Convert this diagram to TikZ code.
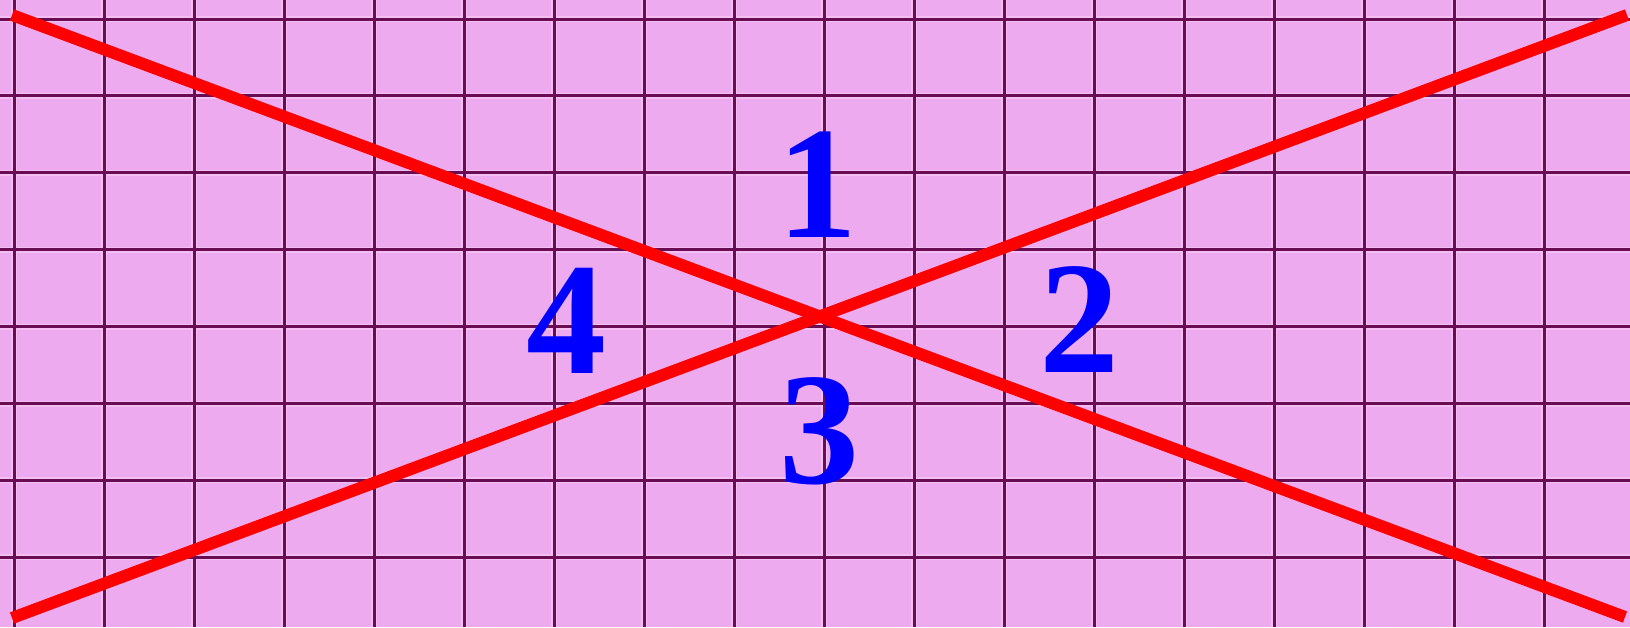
\documentclass[tikz,border=0pt]{standalone}
\usepackage{fontspec}
\setmainfont{Liberation Serif}
\definecolor{bgpink}{RGB}{238,170,238}
\definecolor{halo}{RGB}{245,190,243}
\definecolor{gridline}{RGB}{106,12,84}
\definecolor{redline}{RGB}{255,0,0}
\definecolor{digitblue}{RGB}{0,0,255}
\tikzset{
  halostyle/.style={draw=halo,line width=6pt},
  gridstyle/.style={draw=gridline,line width=3pt},
  crossline/.style={draw=redline,line width=12pt},
  digit/.style={text=digitblue,inner sep=0pt,anchor=base,font=\fontsize{160}{160}\selectfont\bfseries}
}
\begin{document}
\begin{tikzpicture}[x=1pt,y=-1pt]
\useasboundingbox (0,0) rectangle (1630,627);
\fill[bgpink] (0,0) rectangle (1630,627);
% halos
\foreach \i in {0,...,17} {
  \draw[halostyle] ({14+90*\i},0) -- ({14+90*\i},627);
}
\foreach \j in {0,...,7} {
  \draw[halostyle] (0,{19+76.9*\j}) -- (1630,{19+76.9*\j});
}
% grid
\foreach \i in {0,...,17} {
  \draw[gridstyle] ({14+90*\i},0) -- ({14+90*\i},627);
}
\foreach \j in {0,...,7} {
  \draw[gridstyle] (0,{19+76.9*\j}) -- (1630,{19+76.9*\j});
}
% red lines
\coordinate (tl) at (12,15);
\coordinate (br) at (1625,617);
\coordinate (bl) at (12,618);
\coordinate (tr) at (1627,15);
\draw[crossline] (tl) -- (br);
\draw[crossline] (bl) -- (tr);
% digits
\node[digit] (d1) at (817.5,237) {1};
\node[digit] (d2) at (1079.5,372) {2};
\node[digit] (d3) at (819,483) {3};
\node[digit] (d4) at (566,373) {4};
\end{tikzpicture}
\end{document}
